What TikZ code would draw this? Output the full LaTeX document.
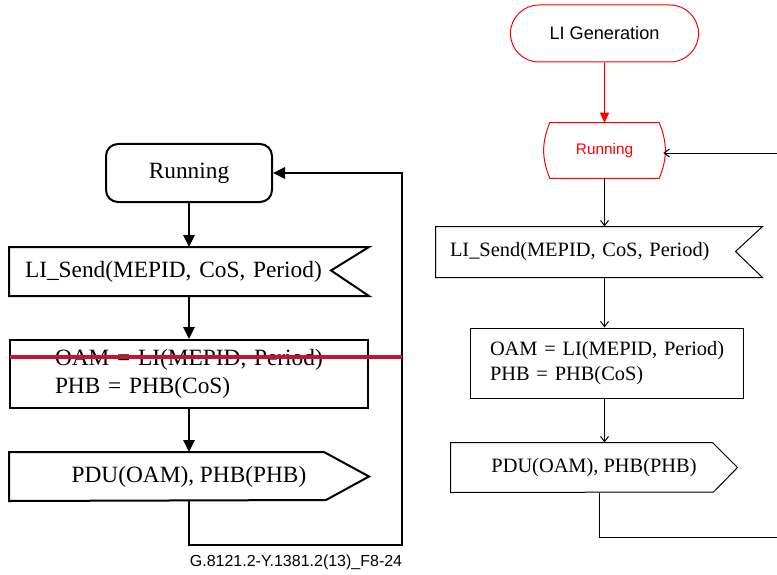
\documentclass[tikz,border=0pt]{standalone}
\usepackage{fontspec}
\setmainfont{Liberation Serif}
\setsansfont{Liberation Sans}
\usetikzlibrary{arrows.meta,shapes.misc}

\definecolor{strikered}{RGB}{192,20,58}

\begin{document}
\begin{tikzpicture}[
    x=0.75pt, y=-0.75pt,
    runbox/.style={draw, line width=1.5pt, rounded corners=9pt,
                   minimum width=124.5pt, minimum height=43.5pt,
                   font=\fontsize{17.5}{21}\selectfont},
    lbox/.style={line width=1.5pt, inner ysep=0pt, minimum height=35.25pt,
                 font=\fontsize{17.5}{21}\selectfont},
    rbox/.style={line width=0.75pt, inner ysep=0pt,
                 font=\fontsize{15.3}{18.75}\selectfont},
    term/.style={rounded rectangle, draw=red, line width=0.75pt,
                 font=\sffamily\fontsize{13.6}{16}\selectfont},
    flow/.style={-{Triangle[length=9pt, width=8.5pt]}, line width=1.5pt},
    tick/.style={-{Straight Barb[length=4pt, width=6pt]}, line width=0.75pt},
    redflow/.style={-{Triangle[length=7.5pt, width=6.75pt]}, draw=red,
                    fill=red, line width=0.75pt},
    strike/.style={draw=strikered, line width=2.6pt},
]
    \useasboundingbox (0,0) rectangle (777,574);

    % left chart
    \node[runbox] (runL) at (189,173) {Running};
    \node[lbox, text width=246pt, inner xsep=11.25pt, align=left]
        (sendL) at (189,271.5) {\mbox{LI\_Send(MEPID, CoS, Period)}};
    \node[lbox, draw, minimum height=51pt, text width=201pt,
          inner xsep=33.75pt, align=left]
        (oamL) at (189,374)
        {\mbox{OAM = LI(MEPID, Period)}\\\mbox{PHB = PHB(CoS)}};
    \node[lbox, minimum width=268.5pt] (pduL) at (189,476.5)
        {PDU(OAM), PHB(PHB)};

    \draw[line width=1.5pt] (sendL.north west) -- (sendL.north east)
        -- ++(-38,23.5) -- (sendL.south east) -- (sendL.south west) -- cycle;
    \draw[line width=1.5pt] (pduL.north west) -- ++(315,0) -- (pduL.east)
        -- ++(-43,23.5) -- (pduL.south west) -- cycle;

    \draw[flow] (runL) -- (sendL);
    \draw[flow] (sendL) -- (oamL);
    \draw[flow] (oamL) -- (pduL);
    \draw[flow] (pduL.south) -- ++(0,43.5) -- ++(213,0) |- (runL.east);

    \draw[strike] (10,357) -- (402,357);

    \node[font=\sffamily\fontsize{12}{14}\selectfont] (fig) at (296,562)
        {G.8121.2-Y.1381.2(13)\_F8-24};

    % right chart
    \node[term, minimum width=147.75pt, minimum height=42.75pt] (gen)
        at (604.5,33.5) {LI Generation};
    \node[text=red, minimum width=87.75pt, minimum height=41.25pt,
          font=\sffamily\fontsize{11.5}{14}\selectfont] (runR)
        at (604.5,150.5) {Running};
    \draw[red, line width=0.75pt]
        ([xshift=3pt]runR.north west) to[bend right=22] ([xshift=3pt]runR.south west)
        -- ([xshift=-3pt]runR.south east) to[bend right=22] ([xshift=-3pt]runR.north east)
        -- cycle;
    \node[rbox, minimum height=37.5pt, text width=223.5pt,
          inner xsep=10.5pt, align=left]
        (sendR) at (599,252) {\mbox{LI\_Send(MEPID, CoS, Period)}};
    \node[rbox, draw, minimum height=52.5pt, text width=174.75pt,
          inner xsep=15pt, align=left]
        (oamR) at (606.5,363)
        {\mbox{OAM = LI(MEPID, Period)}\\\mbox{PHB = PHB(CoS)}};
    \node[rbox, minimum width=214.5pt, minimum height=36.75pt] (pduR)
        at (594,467.5) {PDU(OAM), PHB(PHB)};

    \draw[line width=0.75pt] (sendR.north west) -- (sendR.north east)
        -- ++(-27,25) -- (sendR.south east) -- (sendR.south west) -- cycle;
    \draw[line width=0.75pt] (pduR.north west) -- ++(262,0) -- (pduR.east)
        -- ++(-24,24.5) -- (pduR.south west) -- cycle;

    \coordinate (rin) at (777,153);
    \coordinate (rout) at (777,537);

    \draw[redflow] (gen) -- (runR);
    \draw[tick] (rin) -- (rin -| runR.east);
    \draw[tick] (runR.south) -- (runR.south |- sendR.north);
    \draw[tick] (runR.south |- sendR.south) -- (runR.south |- oamR.north);
    \draw[tick] (runR.south |- oamR.south) -- (runR.south |- pduR.north);
    \draw[line width=0.75pt] ([xshift=3.75pt]pduR.south) |- (rout);

\end{tikzpicture}
\end{document}
